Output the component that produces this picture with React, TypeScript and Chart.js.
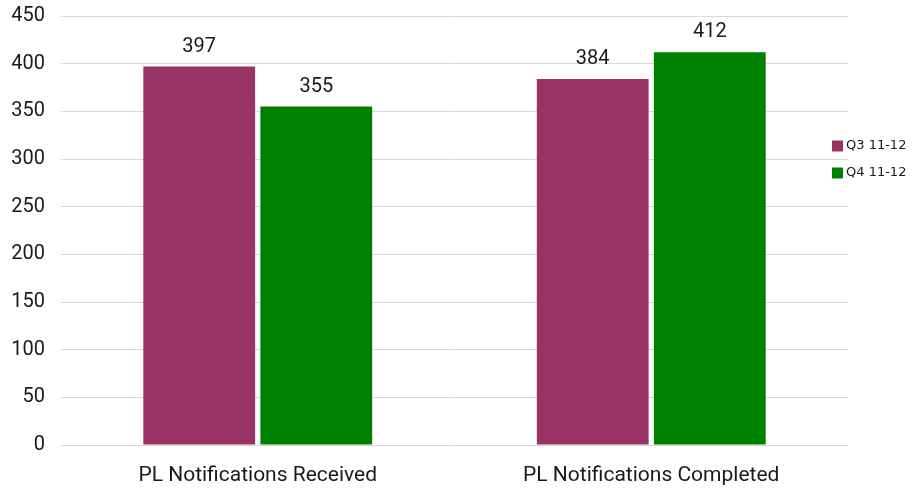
import React, { useEffect, useRef } from "react";
import { Chart, registerables } from "chart.js";

Chart.register(...registerables);

const categories = ["PL Notifications Received", "PL Notifications Completed"];
const seriesNames = ["Q3 11-12", "Q4 11-12"];
const q3Values = [397, 384];
const q4Values = [355, 412];
const colors = ["#993366", "#008000"];
const yMax = 450;
const yStep = 50;

const labelPlugin = {
  id: "barLabels",
  afterDatasetsDraw(chart: any) {
    const ctx = chart.ctx;
    ctx.save();
    ctx.font = "20px Roboto";
    ctx.fillStyle = "#1a1a1a";
    ctx.textAlign = "center";
    ctx.textBaseline = "alphabetic";
    chart.data.datasets.forEach((ds: any, di: number) => {
      const meta = chart.getDatasetMeta(di);
      meta.data.forEach((bar: any, i: number) => {
        ctx.fillText(String(ds.data[i]), bar.x, bar.y - 15);
      });
    });
    ctx.restore();
  },
};

const legendPlugin = {
  id: "customLegend",
  afterDraw(chart: any) {
    const ctx = chart.ctx;
    ctx.save();
    ctx.font = "13px 'DejaVu Sans'";
    ctx.textBaseline = "middle";
    ctx.textAlign = "left";
    const x = chart.chartArea.right - 16;
    seriesNames.forEach((name, i) => {
      const cy = 146 + i * 27;
      ctx.fillStyle = colors[i];
      ctx.fillRect(x, cy - 5.5, 11, 11);
      ctx.fillStyle = "#1a1a1a";
      ctx.fillText(name, x + 14, cy);
    });
    ctx.restore();
  },
};

export default function App() {
  const ref = useRef<HTMLCanvasElement>(null);
  useEffect(() => {
    document.body.style.margin = "0";
    const chart = new Chart(ref.current!, {
      type: "bar",
      data: {
        labels: categories,
        datasets: [
          { label: seriesNames[0], data: q3Values, backgroundColor: colors[0], categoryPercentage: 0.595, barPercentage: 0.955 },
          { label: seriesNames[1], data: q4Values, backgroundColor: colors[1], categoryPercentage: 0.595, barPercentage: 0.955 },
        ],
      },
      options: {
        animation: false,
        responsive: false,
        layout: { padding: { left: 10, right: 65, top: 16, bottom: 0 } },
        plugins: { legend: { display: false }, tooltip: { enabled: false } },
        scales: {
          x: {
            grid: { display: false, drawTicks: false },
            border: { display: false },
            ticks: { font: { family: "Roboto", size: 21 }, color: "#1a1a1a", padding: 18 },
            afterFit(scale: any) {
              scale.height = 43;
              scale.paddingLeft = 0;
              scale.paddingRight = 0;
            },
          },
          y: {
            min: 0,
            max: yMax,
            grid: { color: "#d9d9d9", drawTicks: false, lineWidth: 1 },
            border: { display: false },
            ticks: { stepSize: yStep, font: { family: "Roboto", size: 20 }, color: "#1a1a1a", padding: 16 },
            afterFit(scale: any) {
              scale.width = 51;
              scale.paddingTop = 0;
              scale.paddingBottom = 0;
            },
          },
        },
      },
      plugins: [labelPlugin, legendPlugin],
    });
    return () => chart.destroy();
  }, []);
  return (
    <div style={{ width: 913, height: 488 }}>
      <canvas ref={ref} width={913} height={488} />
    </div>
  );
}
